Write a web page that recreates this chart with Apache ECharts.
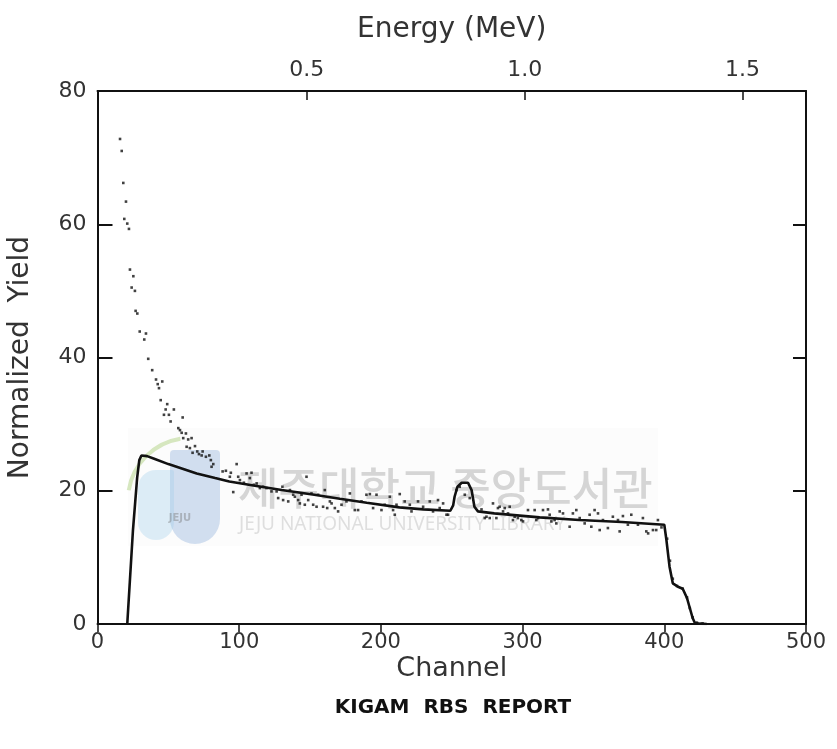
<!DOCTYPE html>
<html>
<head>
<meta charset="utf-8">
<title>KIGAM RBS REPORT</title>
<script src="https://cdn.jsdelivr.net/npm/echarts@6/dist/echarts.min.js"></script>
<style>
  html, body { margin: 0; padding: 0; background: #ffffff; }
  #chart { width: 837px; height: 749px; }
</style>
</head>
<body>
<div id="chart"></div>
<script>
// Measured RBS spectrum: [channel, normalized yield]
const measuredPoints = [
  [15.9, 72.8], [17.1, 71.0], [18.2, 66.2], [18.9, 60.8], [20.1, 63.4], [21.0, 60.1], [22.2, 59.3],
  [22.9, 53.2], [24.1, 50.5], [25.3, 52.2], [26.4, 50.0], [26.9, 47.0], [28.1, 46.6], [29.8, 43.9],
  [33.0, 42.7], [34.2, 43.6], [35.8, 39.8], [38.6, 38.1], [41.3, 36.7], [42.5, 36.0], [43.4, 35.4],
  [44.6, 33.6], [45.7, 36.4], [46.9, 31.4], [48.1, 32.2], [49.2, 33.0], [50.4, 31.4], [51.6, 30.4],
  [53.9, 32.2], [57.0, 29.4], [58.2, 29.1], [59.4, 28.7], [60.1, 31.0], [60.5, 27.9], [62.4, 28.6],
  [62.9, 26.6], [64.0, 27.7], [65.2, 26.4], [66.4, 27.9], [67.1, 25.7], [68.8, 26.7], [70.4, 25.9],
  [71.6, 25.5], [73.5, 25.3], [74.2, 25.9], [76.5, 25.1], [78.9, 25.3], [80.0, 24.6], [80.5, 23.6],
  [81.7, 24.0], [88.3, 22.9], [90.6, 23.0], [93.4, 22.1], [94.1, 22.7], [95.8, 19.8], [98.2, 24.0],
  [99.3, 22.1], [100.5, 21.6], [103.3, 21.2], [105.2, 22.6], [107.5, 21.9], [108.7, 22.7], [110.4, 20.9],
  [112.3, 21.1], [114.6, 20.4], [116.9, 20.6], [119.3, 20.4], [122.8, 19.9], [126.4, 19.9], [127.5, 18.9],
  [130.5, 20.6], [131.0, 18.6], [134.6, 18.4], [135.8, 20.1], [138.1, 19.4], [139.3, 19.1], [141.6, 18.6],
  [142.8, 18.1], [144.0, 19.4], [146.3, 17.9], [147.5, 22.1], [148.7, 18.6], [151.0, 19.6], [152.2, 17.9],
  [154.6, 17.6], [155.7, 19.4], [159.2, 17.6], [160.4, 20.1], [162.1, 17.4], [164.0, 18.4], [165.2, 18.1],
  [167.5, 17.4], [169.8, 16.9], [172.2, 17.9], [175.7, 18.4], [178.1, 19.6], [181.6, 17.1], [183.9, 17.1],
  [186.3, 18.4], [189.8, 19.4], [192.2, 19.5], [194.5, 17.4], [196.9, 19.4], [200.4, 17.1], [202.7, 17.9],
  [206.3, 19.1], [208.6, 17.1], [209.8, 16.4], [211.0, 17.9], [213.3, 19.5], [216.8, 18.4], [220.4, 17.9],
  [221.6, 16.9], [226.2, 18.4], [229.8, 17.6], [234.5, 18.4], [236.8, 16.9], [240.3, 18.6], [241.5, 17.4],
  [243.9, 18.1], [246.3, 16.4], [247.4, 16.4], [253.3, 20.1], [255.6, 20.6], [259.2, 19.4], [262.7, 18.9],
  [271.0, 17.2], [273.3, 15.9], [274.5, 16.1], [276.8, 15.9], [279.1, 18.1], [281.5, 15.9], [282.6, 17.4],
  [283.8, 17.6], [286.2, 16.9], [287.4, 17.4], [289.7, 16.6], [290.9, 17.6], [293.2, 15.6], [294.4, 16.1],
  [296.7, 15.9], [299.1, 15.6], [300.3, 15.4], [303.8, 17.1], [308.5, 17.1], [309.7, 15.6], [310.9, 15.9],
  [314.4, 17.1], [317.9, 17.2], [319.1, 16.4], [320.3, 15.4], [322.6, 15.6], [323.8, 15.1], [326.2, 16.9],
  [328.5, 16.6], [333.2, 14.6], [335.5, 16.6], [337.9, 17.1], [340.3, 15.9], [343.8, 15.1], [347.3, 16.4],
  [348.5, 14.6], [350.8, 17.1], [353.2, 16.6], [354.4, 14.1], [356.7, 15.6], [360.2, 14.4], [363.7, 16.1],
  [367.3, 15.6], [368.5, 13.9], [370.8, 16.2], [374.3, 14.9], [376.7, 16.4], [381.4, 14.9], [384.9, 15.9],
  [387.3, 13.9], [388.6, 13.6], [392.0, 14.1], [394.3, 14.1], [395.5, 15.6], [398.0, 14.5],
  [402.0, 12.8], [404.0, 9.5], [406.0, 6.8], [409.0, 5.7], [413.0, 5.3], [416.0, 4.0], [418.0, 2.4],
  [420.0, 1.0], [423.0, 0.2], [427.0, 0.1]
];

// Simulated spectrum: [channel, normalized yield]
const simulatedCurve = [
  [21, 0], [25, 14], [28, 22], [29.5, 24.6], [31, 25.3], [35, 25.2], [40, 24.8], [50, 24.0],
  [60, 23.3], [70, 22.6], [83, 21.9], [93, 21.4], [110, 20.8], [130, 20.1], [153, 19.4], [171, 18.8],
  [190, 18.2], [213, 17.5], [230, 17.2], [249, 17.0], [251, 17.8], [252, 19.1], [254, 20.6], [257, 21.2],
  [261.5, 21.2], [264, 20.1], [266, 17.6], [268.5, 16.9], [280, 16.6], [312, 16.0], [340, 15.6],
  [370, 15.3], [400, 14.9], [401.5, 12.6], [403.7, 8.6], [406, 6.1], [409.6, 5.6], [413, 5.3],
  [414.3, 5.0], [416, 3.9], [418, 2.4], [420, 0.9], [421.5, 0.2], [425, 0.05], [430, 0]
];

// Axis ticks
const channelTicks = [0, 100, 200, 300, 400, 500];
const yieldTicks = [0, 20, 40, 60, 80];
const energyTicks = [0.5, 1.0, 1.5];

// Energy calibration of the channel scale (MeV)
const energyAtChannel0 = 0.0197;
const mevPerChannel = 0.003252;

const labelFont = '"DejaVu Sans", "Liberation Sans", sans-serif';
const ink = '#111111';
const labelInk = '#333333';

const chart = echarts.init(document.getElementById('chart'), null, { renderer: 'canvas' });

const option = {
  backgroundColor: '#ffffff',
  animation: false,
  grid: { left: 97.5, right: 31, top: 91, bottom: 125, containLabel: false, outerBoundsMode: 'none' },
  xAxis: [
    {
      type: 'value',
      position: 'bottom',
      min: channelTicks[0],
      max: channelTicks[channelTicks.length - 1],
      interval: 100,
      name: 'Channel',
      nameLocation: 'middle',
      nameGap: 31,
      nameMoveOverlap: false,
      nameTextStyle: { fontFamily: labelFont, fontSize: 27, color: labelInk },
      axisLine: { show: true, onZero: false, lineStyle: { color: ink, width: 2 } },
      axisTick: { show: true, inside: false, length: 8, lineStyle: { color: ink, width: 1.5 } },
      axisLabel: { fontFamily: labelFont, fontSize: 21, color: labelInk, margin: 8 },
      splitLine: { show: false }
    },
    {
      type: 'value',
      position: 'top',
      min: energyAtChannel0,
      max: energyAtChannel0 + mevPerChannel * channelTicks[channelTicks.length - 1],
      name: 'Energy (MeV)',
      nameLocation: 'middle',
      nameGap: 47,
      nameMoveOverlap: false,
      nameTextStyle: { fontFamily: labelFont, fontSize: 28, color: labelInk },
      axisLine: { show: true, onZero: false, lineStyle: { color: ink, width: 2 } },
      axisTick: { show: true, inside: true, length: 9, customValues: energyTicks, lineStyle: { color: ink, width: 1.5 } },
      axisLabel: {
        fontFamily: labelFont, fontSize: 22, color: labelInk, margin: 10,
        customValues: energyTicks,
        formatter: v => v.toFixed(1)
      },
      splitLine: { show: false }
    }
  ],
  yAxis: [
    {
      type: 'value',
      position: 'left',
      min: yieldTicks[0],
      max: yieldTicks[yieldTicks.length - 1],
      interval: 20,
      name: 'Normalized  Yield',
      nameLocation: 'middle',
      nameGap: 63,
      nameRotate: 90,
      nameMoveOverlap: false,
      nameTextStyle: { fontFamily: labelFont, fontSize: 28, color: labelInk },
      axisLine: { show: true, onZero: false, lineStyle: { color: ink, width: 2 } },
      axisTick: { show: true, inside: true, length: 15, lineStyle: { color: ink, width: 2 } },
      axisLabel: { fontFamily: labelFont, fontSize: 22, color: labelInk, margin: 11 },
      splitLine: { show: false }
    },
    {
      type: 'value',
      position: 'right',
      min: yieldTicks[0],
      max: yieldTicks[yieldTicks.length - 1],
      interval: 20,
      axisLine: { show: true, onZero: false, lineStyle: { color: ink, width: 2 } },
      axisTick: { show: true, inside: true, length: 13, lineStyle: { color: ink, width: 2 } },
      axisLabel: { show: false },
      splitLine: { show: false }
    }
  ],
  graphic: [
    // library watermark
    {
      type: 'group',
      z: 0,
      silent: true,
      children: [
        { type: 'rect', shape: { x: 128, y: 428, width: 530, height: 118 }, style: { fill: 'rgba(244,244,244,0.3)' } },
        { type: 'rect', shape: { x: 170, y: 450, width: 50, height: 94, r: [4, 4, 30, 30] }, style: { fill: 'rgba(130,165,215,0.35)' } },
        { type: 'rect', shape: { x: 138, y: 470, width: 36, height: 70, r: [18, 2, 18, 18] }, style: { fill: 'rgba(160,205,235,0.35)' } },
        { type: 'arc', shape: { cx: 190, cy: 500, r: 62, startAngle: Math.PI * 1.05, endAngle: Math.PI * 1.45 }, style: { stroke: 'rgba(175,210,130,0.5)', lineWidth: 4, fill: 'none' } },
        { type: 'text', style: { x: 180, y: 518, text: 'JEJU', fill: 'rgba(110,110,110,0.4)', font: 'bold 10px "DejaVu Sans"', align: 'center', verticalAlign: 'middle' } },
        { type: 'text', style: { x: 238, y: 488, text: '제주대학교 중앙도서관', fill: 'rgba(150,150,150,0.38)', font: '500 44px "Noto Sans CJK KR"', verticalAlign: 'middle' } },
        { type: 'text', style: { x: 239, y: 525, text: 'JEJU NATIONAL UNIVERSITY LIBRARY', fill: 'rgba(160,160,160,0.32)', font: '19px "Noto Sans", "DejaVu Sans"', verticalAlign: 'middle' } }
      ]
    },
    {
      type: 'text',
      silent: true,
      style: {
        x: 453,
        y: 708,
        text: 'KIGAM  RBS  REPORT',
        fill: ink,
        font: 'bold 20px "DejaVu Sans"',
        align: 'center',
        verticalAlign: 'middle'
      }
    }
  ],
  series: [
    {
      name: 'Measured',
      type: 'scatter',
      xAxisIndex: 0,
      yAxisIndex: 0,
      data: measuredPoints,
      symbol: 'rect',
      symbolSize: 2.6,
      itemStyle: { color: ink },
      z: 3
    },
    {
      name: 'Simulated',
      type: 'line',
      xAxisIndex: 0,
      yAxisIndex: 0,
      data: simulatedCurve,
      showSymbol: false,
      smooth: false,
      lineStyle: { color: ink, width: 2.6 },
      z: 4
    }
  ]
};

chart.setOption(option);
</script>
</body>
</html>
